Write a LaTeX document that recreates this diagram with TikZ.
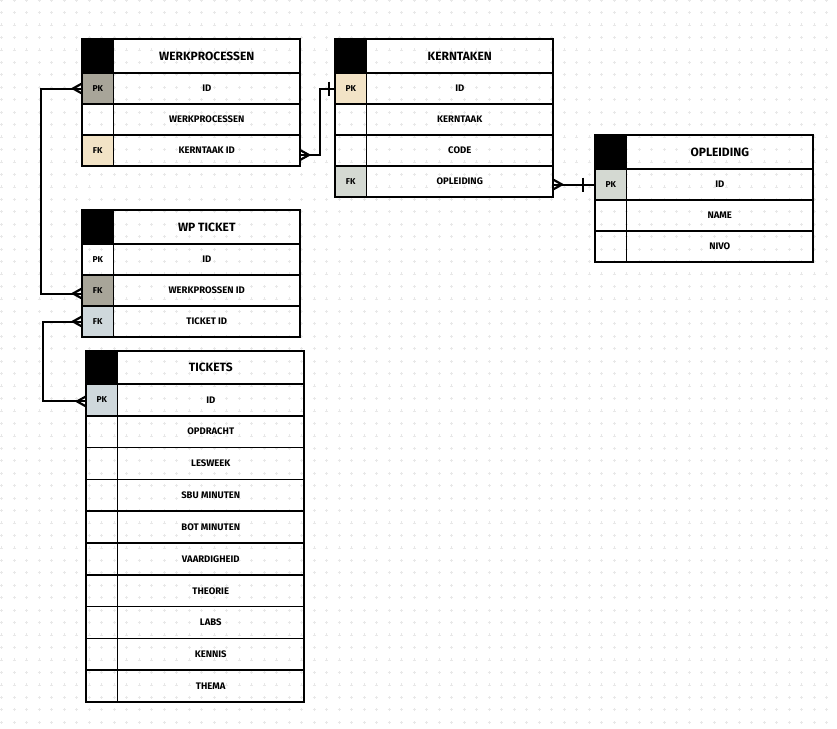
\documentclass[tikz,border=0pt]{standalone}
\usepackage{fontspec}
\setmainfont{Fira Sans}
\definecolor{pkgray}{HTML}{A8A599}
\definecolor{tan}{HTML}{F2E3C6}
\definecolor{bluegray}{HTML}{CFD8DC}
\definecolor{greengray}{HTML}{D4D9D2}
\definecolor{dotgray}{HTML}{E8E8E8}
\tikzset{
  boxcell/.style={draw=black, line width=1.5pt, anchor=north west, inner sep=0pt, outer sep=0pt},
  headcell/.style={boxcell, minimum height=34, font=\fontsize{12}{12}\selectfont\bfseries},
  cornercell/.style={headcell, fill=black, minimum width=31.5},
  titlecell/.style={headcell, minimum width=186.5},
  keycell/.style={boxcell, minimum width=31.5, minimum height=31, font=\fontsize{8.5}{8.5}\selectfont\bfseries},
  fieldcell/.style={boxcell, minimum width=186.5, minimum height=31, font=\fontsize{9.5}{9.5}\selectfont\bfseries},
  conn/.style={line width=2pt, black},
  many/.pic={\draw[conn, line width=2.2pt] (0,5) -- (-9,0) -- (0,-5);},
  one/.pic={\draw[conn] (-6,7) -- (-6,-7);}
}
\begin{document}
\begin{tikzpicture}[x=1pt,y=1pt]
\fill[white] (0,0) rectangle (837,-728);
\useasboundingbox (0,0) rectangle (837,-728);
% grid
\draw[dotgray, line width=0.5pt] \foreach \i in {0,...,67}{\foreach \j in {0,...,58}{
  ({1.7+12.5*\i-1.5},{-12.45*\j}) -- ++(3,0) ({1.7+12.5*\i},{-12.45*\j-1.5}) -- ++(0,3)}};

% werkprocessen
\node[cornercell] (wp-c) at (82,-39) {};
\node[titlecell] (wp-t) at (113.5,-39) {WERKPROCESSEN};
\node[keycell, fill=pkgray] (wp-k1) at (82,-73) {PK};
\node[fieldcell] (wp-f1) at (113.5,-73) {ID};
\node[keycell] (wp-k2) at (82,-104) {};
\node[fieldcell] (wp-f2) at (113.5,-104) {WERKPROCESSEN};
\node[keycell, fill=tan] (wp-k3) at (82,-135) {FK};
\node[fieldcell] (wp-f3) at (113.5,-135) {KERNTAAK ID};

% kerntaken
\node[cornercell] (kt-c) at (335,-39) {};
\node[titlecell] (kt-t) at (366.5,-39) {KERNTAKEN};
\node[keycell, fill=tan] (kt-k1) at (335,-73) {PK};
\node[fieldcell] (kt-f1) at (366.5,-73) {ID};
\node[keycell] (kt-k2) at (335,-104) {};
\node[fieldcell] (kt-f2) at (366.5,-104) {KERNTAAK};
\node[keycell] (kt-k3) at (335,-135) {};
\node[fieldcell] (kt-f3) at (366.5,-135) {CODE};
\node[keycell, fill=greengray] (kt-k4) at (335,-166) {FK};
\node[fieldcell] (kt-f4) at (366.5,-166) {OPLEIDING};

% opleiding
\node[cornercell] (op-c) at (595,-135) {};
\node[titlecell] (op-t) at (626.5,-135) {OPLEIDING};
\node[keycell, fill=greengray] (op-k1) at (595,-169) {PK};
\node[fieldcell] (op-f1) at (626.5,-169) {ID};
\node[keycell] (op-k2) at (595,-200) {};
\node[fieldcell] (op-f2) at (626.5,-200) {NAME};
\node[keycell] (op-k3) at (595,-231) {};
\node[fieldcell] (op-f3) at (626.5,-231) {NIVO};

% wp ticket
\node[cornercell] (wt-c) at (82,-210) {};
\node[titlecell] (wt-t) at (113.5,-210) {WP TICKET};
\node[keycell] (wt-k1) at (82,-244) {PK};
\node[fieldcell] (wt-f1) at (113.5,-244) {ID};
\node[keycell, fill=pkgray] (wt-k2) at (82,-275) {FK};
\node[fieldcell] (wt-f2) at (113.5,-275) {WERKPROSSEN ID};
\node[keycell, fill=bluegray] (wt-k3) at (82,-306) {FK};
\node[fieldcell] (wt-f3) at (113.5,-306) {TICKET ID};

% tickets
\node[cornercell, minimum height=33] (tk-c) at (86,-351) {};
\node[titlecell, minimum height=33] (tk-t) at (117.5,-351) {TICKETS};
\foreach \lbl [count=\n] in {ID,OPDRACHT,LESWEEK,SBU MINUTEN,BOT MINUTEN,VAARDIGHEID,THEORIE,LABS,KENNIS,THEMA}{
  \node[keycell, minimum height=31.8] (tk-k\n) at (86,{-384-31.8*(\n-1)}) {};
  \node[fieldcell, minimum height=31.8] (tk-f\n) at (117.5,{-384-31.8*(\n-1)}) {\lbl};
}
\node[keycell, minimum height=31.8, fill=bluegray] at (tk-k1.north west) {PK};

% relations
\draw[conn] (wp-k1.west) -- ++(-41,0) |- ([yshift=-3pt]wt-k2.west);
\pic at (wp-k1.west) {many};
\pic at ([yshift=-3pt]wt-k2.west) {many};

\draw[conn] (wt-k3.west) -- ++(-39,0) |- ([yshift=-1.5pt]tk-k1.west);
\pic at (wt-k3.west) {many};
\pic at ([yshift=-1.5pt]tk-k1.west) {many};

\draw[conn] ([yshift=-4.5pt]wp-f3.east) -- ++(20,0) |- (kt-k1.west);
\pic[rotate=180] at ([yshift=-4.5pt]wp-f3.east) {many};
\pic at (kt-k1.west) {one};

\draw[conn] (op-k1.west) -- (op-k1.west -| kt-f4.east);
\pic[rotate=180] at (op-k1.west -| kt-f4.east) {many};
\pic at ([xshift=-6pt]op-k1.west) {one};
\end{tikzpicture}
\end{document}
